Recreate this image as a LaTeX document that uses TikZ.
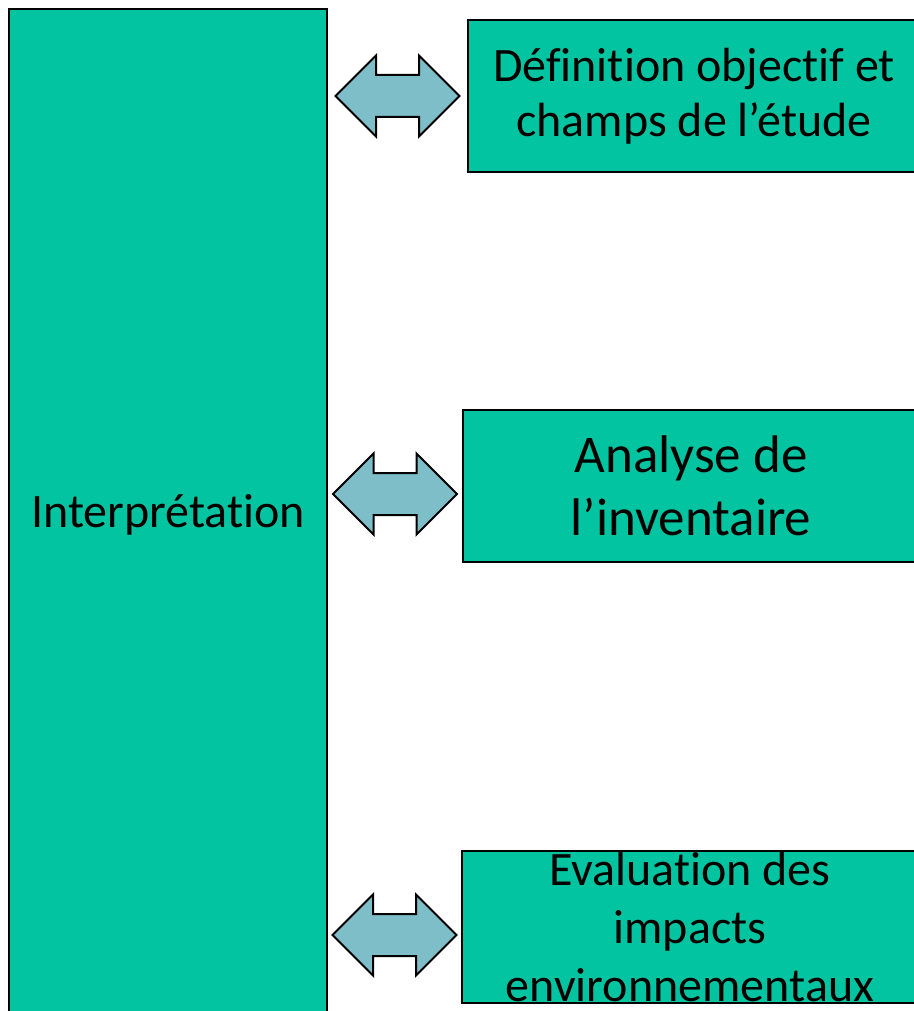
\documentclass[tikz,border=0pt]{standalone}
\usepackage{fontspec}
\setmainfont{Carlito}[Ligatures=NoCommon]
\usetikzlibrary{shapes.arrows,calc,positioning}

\definecolor{boxgreen}{RGB}{3,196,160}
\definecolor{arrowblue}{RGB}{125,190,200}

\tikzset{
	stagebox/.style={draw,line width=2pt,fill=boxgreen,align=center,inner sep=0pt},
	dblarrow/.style={double arrow,draw,line width=2pt,fill=arrowblue,inner xsep=0pt,inner ysep=20pt,
		minimum height=124pt,double arrow head extend=19.5pt}
}

\begin{document}
\begin{tikzpicture}[x=1pt,y=-1pt]

		\useasboundingbox (0,0) rectangle (913,1011);
		
		\node [stagebox, minimum width=318pt, minimum height=1012pt, font=\fontsize{48}{58}\selectfont] (interp) at (168,515) {Interprétation};
		
		\node [stagebox, minimum width=452pt, minimum height=152pt, font=\fontsize{48}{55}\selectfont] (defin) at (694,96) {Définition objectif et\\champs de l’étude};
		\node [stagebox, minimum width=456pt, minimum height=152pt, font=\fontsize{53}{63}\selectfont] (inv) at (691,486) {Analyse de\\l’inventaire};
		\node [stagebox, minimum width=456pt, minimum height=152pt, font=\fontsize{48}{58}\selectfont] (eval) at (690,927) {Evaluation des\\impacts\\environnementaux};
		
		%double arrows between the boxes
		\node [dblarrow] (a1) at ($(interp.east |- defin.west)!0.5!(defin.west)$) {};
		\node [dblarrow] (a2) at ($(interp.east |- 0,494)!0.5!(inv.west |- 0,494)$) {};
		\node [dblarrow] (a3) at ($(interp.east |- 0,935)!0.5!(eval.west |- 0,935)$) {};

\end{tikzpicture}
\end{document}
